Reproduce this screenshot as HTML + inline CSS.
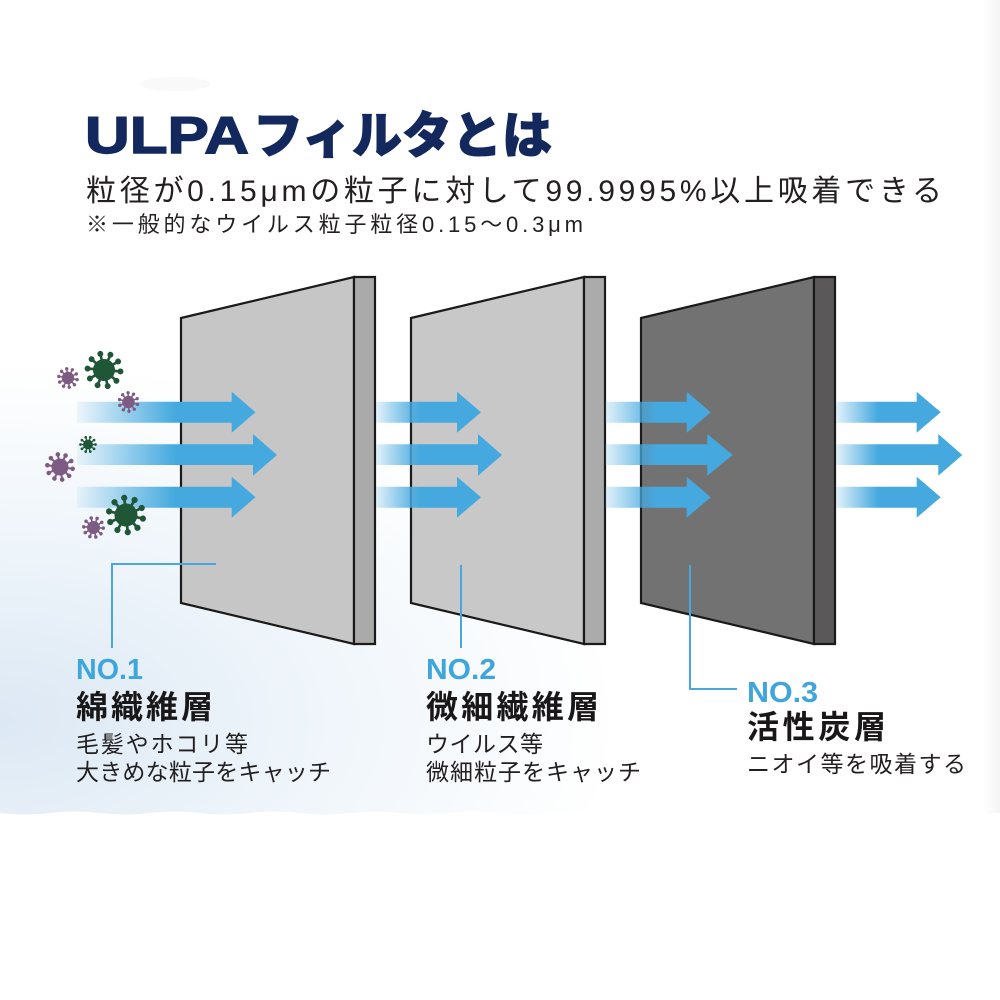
<!DOCTYPE html>
<html><head><meta charset="utf-8"><style>
html,body{margin:0;padding:0;background:#fff;}
svg{display:block;}
</style></head><body>
<svg width="1000" height="1000" viewBox="0 0 1000 1000" xmlns="http://www.w3.org/2000/svg">
<defs>
  <radialGradient id="bgG" gradientUnits="userSpaceOnUse" cx="0" cy="720" r="620" gradientTransform="translate(0,720) scale(1,0.58) translate(0,-720)">
    <stop offset="0" stop-color="#dce8f4"/>
    <stop offset="0.45" stop-color="#edf4fa"/>
    <stop offset="1" stop-color="#ffffff"/>
  </radialGradient>
  <linearGradient id="edgeG" x1="0" x2="1" y1="0" y2="0">
    <stop offset="0" stop-color="#ffffff"/>
    <stop offset="1" stop-color="#f4f4f4"/>
  </linearGradient>
  <linearGradient id="a1" gradientUnits="userSpaceOnUse" x1="77" x2="175" y1="0" y2="0">
    <stop offset="0" stop-color="#45a9df" stop-opacity="0.08"/>
    <stop offset="1" stop-color="#45a9df" stop-opacity="1"/>
  </linearGradient>
  <linearGradient id="a2" gradientUnits="userSpaceOnUse" x1="376" x2="420" y1="0" y2="0">
    <stop offset="0" stop-color="#45a9df" stop-opacity="0.15"/>
    <stop offset="1" stop-color="#45a9df" stop-opacity="1"/>
  </linearGradient>
  <linearGradient id="a3" gradientUnits="userSpaceOnUse" x1="605" x2="657" y1="0" y2="0">
    <stop offset="0" stop-color="#45a9df" stop-opacity="0.15"/>
    <stop offset="1" stop-color="#45a9df" stop-opacity="1"/>
  </linearGradient>
  <linearGradient id="a4" gradientUnits="userSpaceOnUse" x1="836" x2="878" y1="0" y2="0">
    <stop offset="0" stop-color="#45a9df" stop-opacity="0.15"/>
    <stop offset="1" stop-color="#45a9df" stop-opacity="1"/>
  </linearGradient>
  <g id="v">
    <g stroke="currentColor" stroke-width="2.4" stroke-linecap="round">
      <line x1="0" y1="0" x2="15" y2="0"/>
      <line x1="0" y1="0" x2="12.1" y2="8.8"/>
      <line x1="0" y1="0" x2="4.6" y2="14.3"/>
      <line x1="0" y1="0" x2="-4.6" y2="14.3"/>
      <line x1="0" y1="0" x2="-12.1" y2="8.8"/>
      <line x1="0" y1="0" x2="-15" y2="0"/>
      <line x1="0" y1="0" x2="-12.1" y2="-8.8"/>
      <line x1="0" y1="0" x2="-4.6" y2="-14.3"/>
      <line x1="0" y1="0" x2="4.6" y2="-14.3"/>
      <line x1="0" y1="0" x2="12.1" y2="-8.8"/>
    </g>
    <g fill="currentColor">
      <circle cx="0" cy="0" r="10"/>
      <circle cx="15" cy="0" r="2.7"/>
      <circle cx="12.1" cy="8.8" r="2.7"/>
      <circle cx="4.6" cy="14.3" r="2.7"/>
      <circle cx="-4.6" cy="14.3" r="2.7"/>
      <circle cx="-12.1" cy="8.8" r="2.7"/>
      <circle cx="-15" cy="0" r="2.7"/>
      <circle cx="-12.1" cy="-8.8" r="2.7"/>
      <circle cx="-4.6" cy="-14.3" r="2.7"/>
      <circle cx="4.6" cy="-14.3" r="2.7"/>
      <circle cx="12.1" cy="-8.8" r="2.7"/>
    </g>
  </g>
</defs>

<!-- background -->
<rect x="0" y="0" width="1000" height="1000" fill="#ffffff"/>
<path d="M0 0 H1000 V813 Q975 810 950 813 T900 813 T850 813 T800 813 T750 813 T700 813 T650 813 T600 813 T550 813 T500 813 T450 813 T400 813 T350 813 T300 813 T250 813 T200 813 T150 813 T100 813 T50 813 T0 813 Z" fill="url(#bgG)"/>
<rect x="984" y="0" width="16" height="813" fill="url(#edgeG)"/>
<ellipse cx="175" cy="84" rx="35" ry="7" fill="#f3f3f3" opacity="0.5"/>

<!-- title -->
<text x="85" y="153" font-family="'Liberation Sans',sans-serif" font-weight="700" fill="#13285c" stroke="#13285c" stroke-width="1.4" font-size="52" textLength="164" lengthAdjust="spacingAndGlyphs">ULPA</text>
<text x="253" y="153" font-family="'Noto Sans CJK JP',sans-serif" font-weight="900" fill="#13285c" stroke="#13285c" stroke-width="1" font-size="50" textLength="299" lengthAdjust="spacingAndGlyphs">フィルタとは</text>

<!-- subtitles -->
<text x="86" y="201" font-family="'Liberation Sans','Noto Sans CJK JP',sans-serif" font-size="30" fill="#231f20" textLength="856" lengthAdjust="spacing">粒径が0.15μmの粒子に対して99.9995%以上吸着できる</text>
<text x="86" y="232" font-family="'Liberation Sans','Noto Sans CJK JP',sans-serif" font-size="22" fill="#231f20" textLength="497" lengthAdjust="spacing">※一般的なウイルス粒子粒径0.15〜0.3μm</text>

<!-- panels -->
<g stroke="#1a1a1a" stroke-width="2.2" stroke-linejoin="miter">
  <polygon points="181,318 354,277 354,644 181,603" fill="#c6c6c6"/>
  <polygon points="354,277 375,277 375,644 354,644" fill="#aaaaaa"/>
  <polygon points="411,318 584,277 584,644 411,603" fill="#c8c8c8"/>
  <polygon points="584,277 605,277 605,644 584,644" fill="#ababab"/>
  <polygon points="641,318 814,277 814,644 641,603" fill="#727272"/>
  <polygon points="814,277 835,277 835,644 814,644" fill="#5a5859"/>
</g>

<!-- arrows -->
<g fill="url(#a1)">
  <polygon points="77,401.7 231.7,401.7 231.7,391.7 255.5,412.2 231.7,432.7 231.7,422.7 77,422.7"/>
  <polygon points="77,444.3 253,444.3 253,434 277,455 253,475.7 253,465 77,465"/>
  <polygon points="77,486.7 231.7,486.7 231.7,476.7 255.5,497.2 231.7,517.7 231.7,507.7 77,507.7"/>
</g>
<g fill="url(#a2)">
  <polygon points="376,401.7 457,401.7 457,391.7 481,412.2 457,432.7 457,422.7 376,422.7"/>
  <polygon points="376,444.3 478,444.3 478,434 502,455 478,475.7 478,465 376,465"/>
  <polygon points="376,486.7 457,486.7 457,476.7 481,497.2 457,517.7 457,507.7 376,507.7"/>
</g>
<g fill="url(#a3)">
  <polygon points="605,401.7 686.7,401.7 686.7,391.7 710.7,412.2 686.7,432.7 686.7,422.7 605,422.7"/>
  <polygon points="605,444.3 707.3,444.3 707.3,434 732.7,455 707.3,475.7 707.3,465 605,465"/>
  <polygon points="605,486.7 686.7,486.7 686.7,476.7 710.7,497.2 686.7,517.7 686.7,507.7 605,507.7"/>
</g>
<g fill="url(#a4)">
  <polygon points="836,401.7 916.7,401.7 916.7,391.7 940.7,412.2 916.7,432.7 916.7,422.7 836,422.7"/>
  <polygon points="836,444.3 938.3,444.3 938.3,434 962.3,455 938.3,475.7 938.3,465 836,465"/>
  <polygon points="836,486.7 916.7,486.7 916.7,476.7 940.7,497.2 916.7,517.7 916.7,507.7 836,507.7"/>
</g>

<!-- viruses -->
<use href="#v" transform="translate(68,378) scale(0.62) rotate(10)" style="color:#7e5b82"/>
<use href="#v" transform="translate(104,370) scale(1.1) rotate(5)" style="color:#1f5636"/>
<use href="#v" transform="translate(128.5,402) scale(0.62) rotate(15)" style="color:#7e5b82"/>
<use href="#v" transform="translate(88,444.5) scale(0.5)" style="color:#1f5636"/>
<use href="#v" transform="translate(60,467) scale(0.85) rotate(8)" style="color:#7e5b82"/>
<use href="#v" transform="translate(126,515) scale(1.15) rotate(12)" style="color:#1f5636"/>
<use href="#v" transform="translate(93.5,527.5) scale(0.65) rotate(4)" style="color:#7e5b82"/>

<!-- leader lines -->
<g stroke="#4aa6dc" stroke-width="2" fill="none">
  <polyline points="216,564 112,564 112,648"/>
  <polyline points="461,565 461,648"/>
  <polyline points="690,565 690,689 737,689"/>
</g>

<!-- labels -->
<g font-family="'Liberation Sans','Noto Sans CJK JP',sans-serif">
  <text x="76" y="679" font-size="29" font-weight="700" fill="#3ea6dc" textLength="67" lengthAdjust="spacingAndGlyphs">NO.1</text>
  <text x="76" y="718" font-size="32" font-weight="700" fill="#1a1718" textLength="137" lengthAdjust="spacing">綿織維層</text>
  <text x="76" y="752" font-size="23" fill="#231f20" textLength="172" lengthAdjust="spacing">毛髪やホコリ等</text>
  <text x="76" y="780" font-size="23" fill="#231f20" textLength="255" lengthAdjust="spacing">大きめな粒子をキャッチ</text>

  <text x="426" y="679" font-size="29" font-weight="700" fill="#3ea6dc" textLength="70" lengthAdjust="spacingAndGlyphs">NO.2</text>
  <text x="426" y="718" font-size="32" font-weight="700" fill="#1a1718" textLength="173" lengthAdjust="spacing">微細繊維層</text>
  <text x="426" y="752" font-size="23" fill="#231f20" textLength="117" lengthAdjust="spacing">ウイルス等</text>
  <text x="426" y="780" font-size="23" fill="#231f20" textLength="215" lengthAdjust="spacing">微細粒子をキャッチ</text>

  <text x="747" y="702" font-size="29" font-weight="700" fill="#3ea6dc" textLength="71" lengthAdjust="spacingAndGlyphs">NO.3</text>
  <text x="747" y="738" font-size="32" font-weight="700" fill="#1a1718" textLength="139" lengthAdjust="spacing">活性炭層</text>
  <text x="747" y="772" font-size="23" fill="#231f20" textLength="219" lengthAdjust="spacing">ニオイ等を吸着する</text>
</g>
</svg>
</body></html>
